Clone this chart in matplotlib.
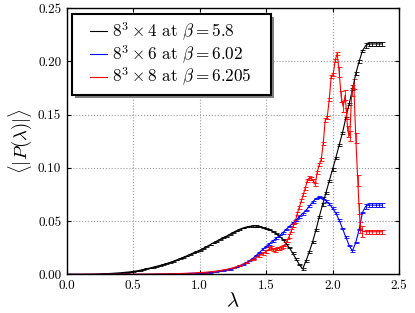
import numpy as np
import matplotlib
matplotlib.use("Agg")
import matplotlib.pyplot as plt
from matplotlib.lines import Line2D
from matplotlib.legend_handler import HandlerLine2D
from matplotlib.patches import Rectangle

plt.rcParams['font.family'] = ['cmr10', 'DejaVu Serif']
plt.rcParams['mathtext.fontset'] = 'cm'
plt.rcParams['axes.formatter.use_mathtext'] = True

lam = [0.000, 0.025, 0.050, 0.075, 0.100, 0.125, 0.150, 0.175, 0.200, 0.225,
       0.250, 0.275, 0.300, 0.325, 0.350, 0.375, 0.400, 0.425, 0.450, 0.475,
       0.500, 0.525, 0.550, 0.575, 0.600, 0.625, 0.650, 0.675, 0.700, 0.725,
       0.750, 0.775, 0.800, 0.825, 0.850, 0.875, 0.900, 0.925, 0.950, 0.975,
       1.000, 1.025, 1.050, 1.075, 1.100, 1.125, 1.150, 1.175, 1.200, 1.225,
       1.250, 1.275, 1.300, 1.325, 1.350, 1.375, 1.400, 1.425, 1.450, 1.475,
       1.500, 1.525, 1.550, 1.575, 1.600, 1.625, 1.650, 1.675, 1.700, 1.725,
       1.750, 1.775, 1.800, 1.825, 1.850, 1.875, 1.900, 1.925, 1.950, 1.975,
       2.000, 2.025, 2.050, 2.075, 2.100, 2.125, 2.150, 2.175, 2.200, 2.225,
       2.250, 2.275, 2.300, 2.325, 2.350, 2.375]

p_nt4 = [0.0000, 0.0000, 0.0000, 0.0000, 0.0000, 0.0000, 0.0001, 0.0001, 0.0002, 0.0003,
         0.0004, 0.0005, 0.0006, 0.0008, 0.0010, 0.0012, 0.0014, 0.0017, 0.0020, 0.0023,
         0.0027, 0.0032, 0.0038, 0.0045, 0.0052, 0.0059, 0.0067, 0.0075, 0.0083, 0.0091,
         0.0100, 0.0111, 0.0122, 0.0134, 0.0146, 0.0159, 0.0172, 0.0186, 0.0200, 0.0213,
         0.0226, 0.0242, 0.0259, 0.0276, 0.0293, 0.0310, 0.0327, 0.0343, 0.0358, 0.0375,
         0.0392, 0.0408, 0.0423, 0.0435, 0.0444, 0.0451, 0.0454, 0.0453, 0.0450, 0.0440,
         0.0430, 0.0418, 0.0403, 0.0384, 0.0360, 0.0330, 0.0293, 0.0250, 0.0200, 0.0145,
         0.0092, 0.0050, 0.0125, 0.0210, 0.0305, 0.0415, 0.0540, 0.0655, 0.0765, 0.0875,
         0.0985, 0.1095, 0.1215, 0.1330, 0.1470, 0.1600, 0.1740, 0.1885, 0.2000, 0.2100,
         0.2150, 0.2165, 0.2165, 0.2165, 0.2165, 0.2165]
e_nt4 = [0.0003] * 56 + [0.0006] * 16 + [0.0012] * 18 + [0.0022] * 6

p_nt6 = [0.0000, 0.0000, 0.0000, 0.0000, 0.0000, 0.0000, 0.0000, 0.0000, 0.0000, 0.0000,
         0.0000, 0.0000, 0.0000, 0.0000, 0.0000, 0.0000, 0.0000, 0.0000, 0.0000, 0.0000,
         0.0000, 0.0000, 0.0000, 0.0000, 0.0001, 0.0001, 0.0001, 0.0002, 0.0002, 0.0003,
         0.0003, 0.0004, 0.0004, 0.0005, 0.0006, 0.0007, 0.0008, 0.0009, 0.0010, 0.0011,
         0.0012, 0.0014, 0.0016, 0.0019, 0.0022, 0.0026, 0.0030, 0.0035, 0.0040, 0.0048,
         0.0058, 0.0068, 0.0080, 0.0094, 0.0110, 0.0128, 0.0150, 0.0177, 0.0205, 0.0235,
         0.0262, 0.0288, 0.0313, 0.0338, 0.0362, 0.0390, 0.0420, 0.0450, 0.0480, 0.0510,
         0.0540, 0.0570, 0.0600, 0.0640, 0.0680, 0.0712, 0.0725, 0.0715, 0.0692, 0.0662,
         0.0622, 0.0575, 0.0510, 0.0430, 0.0350, 0.0272, 0.0220, 0.0300, 0.0420, 0.0580,
         0.0640, 0.0650, 0.0650, 0.0650, 0.0650, 0.0650]
e_nt6 = [0.0003] * 56 + [0.0008] * 34 + [0.0022] * 6

lam_nt8 = [0.0, 0.1, 0.2, 0.3, 0.4, 0.5, 0.6, 0.7, 0.8, 0.9,
           0.95, 1.0, 1.05, 1.1, 1.15, 1.2, 1.25, 1.3, 1.35, 1.4,
           1.45, 1.475, 1.5, 1.525, 1.54, 1.555, 1.57, 1.585, 1.6, 1.615,
           1.63, 1.645, 1.66, 1.675, 1.69, 1.705, 1.72, 1.735, 1.75, 1.765,
           1.78, 1.795, 1.81, 1.825, 1.84, 1.855, 1.87, 1.885, 1.9, 1.915,
           1.93, 1.945, 1.96, 1.975, 1.99, 2.005, 2.02, 2.035, 2.05, 2.065,
           2.08, 2.095, 2.105, 2.115, 2.13, 2.145, 2.16, 2.175, 2.19, 2.2,
           2.21, 2.225, 2.25, 2.275, 2.3, 2.325, 2.35, 2.375]
p_nt8 = [0.0000, 0.0000, 0.0000, 0.0000, 0.0000, 0.0001, 0.0002, 0.0004, 0.0006, 0.0009,
         0.0012, 0.0016, 0.0020, 0.0026, 0.0035, 0.0046, 0.0060, 0.0080, 0.0108, 0.0140,
         0.0175, 0.0195, 0.0215, 0.0240, 0.0250, 0.0232, 0.0228, 0.0242, 0.0245, 0.0250,
         0.0262, 0.0285, 0.0318, 0.0360, 0.0410, 0.0455, 0.0500, 0.0570, 0.0630, 0.0690,
         0.0750, 0.0810, 0.0880, 0.0905, 0.0900, 0.0880, 0.0845, 0.0960, 0.1030, 0.1080,
         0.1230, 0.1450, 0.1475, 0.1640, 0.1860, 0.1880, 0.2010, 0.2075, 0.1900, 0.1670,
         0.1575, 0.1685, 0.1510, 0.1345, 0.1300, 0.1730, 0.1790, 0.1280, 0.0880, 0.0620,
         0.0440, 0.0405, 0.0400, 0.0400, 0.0400, 0.0400, 0.0400, 0.0400]
e_nt8 = [0.0003] * 20 + [0.0015] * 38 + [0.0050] * 14 + [0.0017] * 6

labels = [r'$8^3\times 4$ at $\beta = 5.8$',
          r'$8^3\times 6$ at $\beta = 6.02$',
          r'$8^3\times 8$ at $\beta = 6.205$']
colors = ['black', '#0000ff', '#ff0000']

xticks = [0.0, 0.5, 1.0, 1.5, 2.0, 2.5]
yticks = [0.00, 0.05, 0.10, 0.15, 0.20, 0.25]

fig = plt.figure(figsize=(4.15, 3.13), dpi=100)
ax = fig.add_axes([0.1607, 0.1236, 0.8007, 0.8499])

series = [(lam, p_nt4, e_nt4), (lam, p_nt6, e_nt6), (lam_nt8, p_nt8, e_nt8)]
handles = []
for (x, y, e), c, lab in zip(series, colors, labels):
    cont = ax.errorbar(x, y, yerr=e, color=c, lw=0.8, elinewidth=0.6, capsize=1.8,
                       capthick=0.6, label=lab)
    handles.append(cont[0])

ax.set_xlim(0, 2.5)
ax.set_ylim(0, 0.25)
ax.set_xticks(xticks)
ax.set_xticklabels(['%.1f' % t for t in xticks])
ax.set_yticks(yticks)
ax.set_yticklabels(['%.2f' % t for t in yticks])
ax.tick_params(direction='in', top=True, right=True, length=3, labelsize=9.5, pad=4)
ax.grid(True, linestyle=':', color='0.6', lw=0.8)
for s in ax.spines.values():
    s.set_linewidth(1.0)

ax.set_xlabel(r'$\lambda$', fontsize=15, labelpad=0)
ax.set_ylabel(r'$\langle|P(\lambda)|\rangle$', fontsize=13.5, labelpad=3)

leg = ax.legend(handles, labels, loc='upper left', bbox_to_anchor=(0.016, 0.979),
                borderaxespad=0, fontsize=12.3, frameon=False,
                handlelength=1.65, handletextpad=0.3, labelspacing=0.02,
                borderpad=0.38, handler_map={Line2D: HandlerLine2D(xpad=0.65)})
leg.set_zorder(6)

# legend frame with equal left/right margins and a grey drop shadow
fig.canvas.draw()
bb = leg.get_window_extent().transformed(ax.transAxes.inverted())
extra = 13.0 / ax.bbox.width
dx = 3.0 / ax.bbox.width
dy = 3.0 / ax.bbox.height
ax.add_patch(Rectangle((bb.x0 + dx, bb.y0 - dy), bb.width + extra, bb.height,
                       transform=ax.transAxes, facecolor='0.5', edgecolor='none',
                       zorder=5.8))
ax.add_patch(Rectangle((bb.x0, bb.y0), bb.width + extra, bb.height,
                       transform=ax.transAxes, facecolor='white', edgecolor='black',
                       lw=1.5, zorder=5.9))

fig.savefig('out.png', dpi=100)
